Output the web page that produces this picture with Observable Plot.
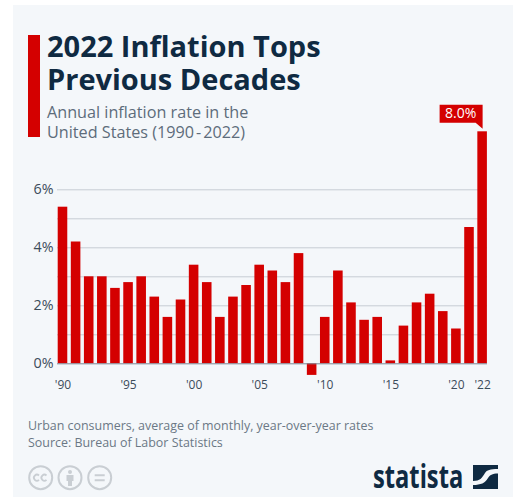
<!DOCTYPE html>
<html>
<head>
<meta charset="utf-8">
<script src="https://cdn.jsdelivr.net/npm/d3@7"></script>
<script src="https://cdn.jsdelivr.net/npm/@observablehq/plot@0.6"></script>
<style>
  html, body { margin: 0; padding: 0; background: #fff; }
  #card { position: relative; width: 515px; height: 500px; overflow: hidden; font-family: "Open Sans", sans-serif; }
  #panel { position: absolute; left: 13px; top: 5px; width: 500px; height: 492px; background: #f4f7fa; }
  #accent { position: absolute; left: 28px; top: 35px; width: 11.5px; height: 102px; background: #d40000; }
  .title-line { position: absolute; left: 47px; height: 32px; line-height: 32px; font-size: 29px; font-weight: 700; color: #0f2a42; white-space: nowrap; }
  #subtitle { position: absolute; left: 47px; top: 102px; font-size: 16.2px; line-height: 20px; color: #5d6c7b; white-space: nowrap; }
  #subtitle span { margin: 0 2px; }
  #notes { position: absolute; left: 28px; top: 417px; font-size: 12.45px; line-height: 17px; color: #6b7885; white-space: nowrap; }
  #chart { position: absolute; left: 0; top: 0; }
  #licence { position: absolute; left: 28px; top: 464px; }
  #brand { position: absolute; left: 373px; top: 456px; font-size: 32px; line-height: 40px; font-weight: 700; color: #0f2a42; transform-origin: 0 0; transform: scaleX(0.74); }
  #mark { position: absolute; left: 473px; top: 465px; }
</style>
</head>
<body>
<div id="card">
  <div id="panel"></div>
  <div id="accent"></div>
  <div class="title-line" style="top:30px">2022 Inflation Tops</div>
  <div class="title-line" style="top:62.5px">Previous Decades</div>
  <div id="subtitle">Annual inflation rate in the<br>United States (1990<span>-</span>2022)</div>
  <div id="chart"></div>
  <div id="notes">Urban consumers, average of monthly, year-over-year rates<br>Source: Bureau of Labor Statistics</div>
  <svg id="licence" width="86" height="28" viewBox="0 0 86 28" fill="none" stroke="#c9ced3" stroke-width="2">
    <circle cx="12.7" cy="13.7" r="11.5"/>
    <path d="M11 11.5a3 3 0 1 0 0 4.4M18.5 11.5a3 3 0 1 0 0 4.4" stroke-width="1.8"/>
    <circle cx="42" cy="13.7" r="11.5"/>
    <circle cx="42" cy="8" r="2" fill="#c9ced3" stroke="none"/>
    <path d="M38.5 11h7v6h-1.5v5h-4v-5h-1.5z" fill="#c9ced3" stroke="none"/>
    <circle cx="71.7" cy="13.7" r="11.5"/>
    <path d="M66.7 11.2h10M66.7 16.2h10" stroke-width="2"/>
  </svg>
  <div id="brand">statista</div>
  <svg id="mark" width="25" height="24" viewBox="0 0 25 24">
    <rect width="25" height="24" fill="#0f2a42"/>
    <path d="M0 16 C7 16 9 13 12 8 C14 5 17 4 25 4 V8.5 C19 8.5 17 10 15 13 C12 18 8 20 0 20 Z" fill="#f4f7fa"/>
  </svg>
</div>
<script>
// CPI-U annual inflation, United States
const years = d3.range(1990, 2023);
const rates = [5.4, 4.2, 3.0, 3.0, 2.6, 2.8, 3.0, 2.3, 1.6, 2.2, 3.4, 2.8, 1.6, 2.3, 2.7, 3.4, 3.2,
               2.8, 3.8, -0.4, 1.6, 3.2, 2.1, 1.5, 1.6, 0.1, 1.3, 2.1, 2.4, 1.8, 1.2, 4.7, 8.0];
const gridValues = [1, 2, 3, 4, 5, 6];
const yTicks = [0, 2, 4, 6];
const xTicks = [1990, 1995, 2000, 2005, 2010, 2015, 2020, 2022];

const rows = years.map((year, i) => ({year, rate: rates[i]}));
const latest = rows.filter(d => d.year === 2022);

// Speech-bubble flag anchored just above the last bar
const flag = {
  draw(ctx) {
    ctx.moveTo(-43, -27);
    ctx.lineTo(0, -27);
    ctx.lineTo(0, -3);
    ctx.lineTo(-7, -9);
    ctx.lineTo(-43, -9);
    ctx.closePath();
  }
};

const red = "#d40000";
const ink = "#3c4c5a";

const plot = Plot.plot({
  width: 515,
  height: 400,
  marginLeft: 57,
  marginRight: 28,
  marginTop: 0,
  marginBottom: 0,
  style: {background: "transparent", fontFamily: "Open Sans, sans-serif"},
  x: {type: "band", domain: years, range: [57.7, 486.9], paddingInner: 0.27, paddingOuter: 0, align: 0.5, round: false},
  y: {domain: [0, 6], range: [363.3, 189.3]},
  marks: [
    Plot.ruleY(gridValues, {stroke: "#c6ccd3", strokeWidth: 1}),
    Plot.barY(rows, {x: "year", y: "rate", fill: red}),
    Plot.ruleY([0], {stroke: "#7b8794", strokeWidth: 1}),
    Plot.axisY({ticks: yTicks, tickSize: 0, tickPadding: 4, tickFormat: d => `${d}%`, fontSize: 14.3, color: ink, label: null}),
    Plot.axisX({
      ticks: xTicks, anchor: "bottom", tickSize: 0, tickPadding: 0, tickFormat: d => `'${String(d).slice(2)}`,
      fontSize: 12, color: ink, label: null, dy: -20.5
    }),
    Plot.dot(latest, {x: "year", y: "rate", symbol: flag, fill: red, stroke: "none"}),
    Plot.text(latest, {x: "year", y: "rate", text: d => `${d.rate.toFixed(1)}%`, dx: -22, dy: -18, fill: "#fff", fontSize: 14})
  ]
});
document.getElementById("chart").appendChild(plot);
</script>
</body>
</html>
